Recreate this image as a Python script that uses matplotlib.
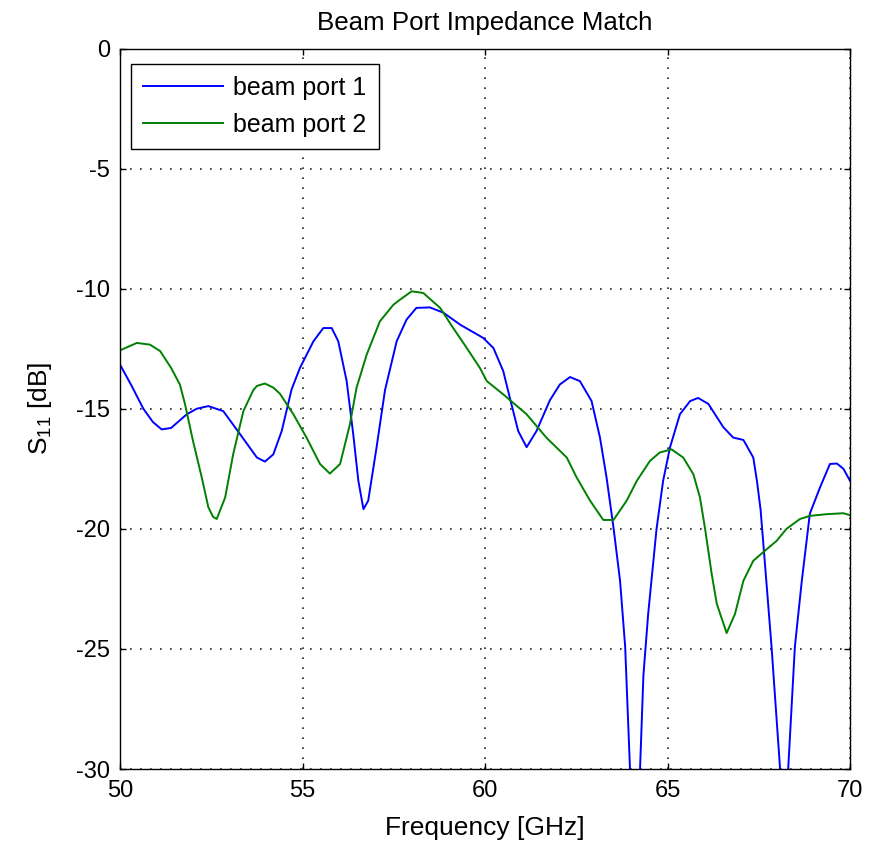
import matplotlib

matplotlib.use("Agg")
import matplotlib.pyplot as plt

FREQ_PORT1 = [
    50.0, 50.32, 50.64, 50.9, 51.14, 51.4, 51.83, 52.1, 52.42, 52.83,
    53.29, 53.75, 53.97, 54.2, 54.43, 54.7, 54.93, 55.3, 55.57, 55.8,
    55.98, 56.21, 56.39, 56.53, 56.67, 56.8, 57.03, 57.26, 57.58, 57.85,
    58.12, 58.49, 58.86, 59.32, 59.95, 60.23, 60.5, 60.68, 60.91, 61.14,
    61.41, 61.78, 62.05, 62.33, 62.6, 62.92, 63.15, 63.33, 63.52, 63.7,
    63.84, 63.97, 64.11, 64.25, 64.34, 64.47, 64.7, 64.88, 65.07, 65.34,
    65.62, 65.84, 66.12, 66.53, 66.8, 67.08, 67.35, 67.45, 67.55, 67.67,
    67.85, 68.08, 68.2, 68.31, 68.49, 68.68, 68.9, 69.18, 69.45, 69.64,
    69.82, 70.0,
]
S11_PORT1 = [
    -13.16, -14.05, -15.0, -15.55, -15.86, -15.8, -15.23, -15.0, -14.89, -15.1,
    -16.06, -17.03, -17.2, -16.9, -15.93, -14.2, -13.3, -12.19, -11.64, -11.64,
    -12.19, -13.85, -16.06, -18.0, -19.18, -18.83, -16.6, -14.23, -12.19, -11.29,
    -10.8, -10.78, -11.0, -11.5, -12.05, -12.47, -13.43, -14.54, -15.93, -16.6,
    -15.93, -14.64, -13.99, -13.68, -13.85, -14.68, -16.2, -17.86, -19.94, -22.16,
    -24.9, -29.9, -36.0, -29.9, -26.1, -23.55, -20.0, -18.0, -16.6, -15.23,
    -14.68, -14.55, -14.8, -15.77, -16.2, -16.3, -17.03, -18.0, -19.2, -21.46,
    -24.9, -29.9, -35.0, -29.9, -24.9, -22.16, -19.37, -18.27, -17.3, -17.28,
    -17.5, -18.0,
]

FREQ_PORT2 = [
    50.0, 50.46, 50.82, 51.1, 51.4, 51.64, 51.78, 52.0, 52.24, 52.42,
    52.55, 52.65, 52.88, 53.1, 53.38, 53.65, 53.75, 53.97, 54.2, 54.38,
    54.75, 55.11, 55.48, 55.75, 56.03, 56.3, 56.48, 56.76, 57.12, 57.49,
    57.67, 57.99, 58.31, 58.77, 59.13, 59.5, 59.86, 60.05, 60.5, 61.14,
    61.68, 62.24, 62.51, 62.88, 63.24, 63.52, 63.88, 64.16, 64.52, 64.79,
    65.11, 65.43, 65.71, 65.89, 66.03, 66.21, 66.35, 66.62, 66.85, 67.08,
    67.35, 67.67, 67.99, 68.26, 68.63, 68.9, 69.36, 69.82, 70.0,
]
S11_PORT2 = [
    -12.57, -12.26, -12.33, -12.6, -13.3, -13.99, -14.8, -16.34, -17.86, -19.1,
    -19.5, -19.59, -18.7, -16.9, -15.1, -14.23, -14.05, -13.95, -14.12, -14.37,
    -15.23, -16.2, -17.3, -17.7, -17.3, -15.64, -14.13, -12.74, -11.36, -10.67,
    -10.46, -10.11, -10.18, -10.8, -11.64, -12.47, -13.3, -13.85, -14.4, -15.23,
    -16.2, -17.03, -17.86, -18.83, -19.63, -19.63, -18.83, -18.0, -17.17, -16.82,
    -16.69, -17.03, -17.73, -18.7, -20.0, -21.87, -23.12, -24.34, -23.54, -22.16,
    -21.33, -20.91, -20.5, -20.0, -19.59, -19.46, -19.39, -19.35, -19.43,
]

X_TICKS = [50, 55, 60, 65, 70]
Y_TICKS = [0, -5, -10, -15, -20, -25, -30]

plt.rcParams.update(
    {
        "font.family": ["Liberation Sans", "DejaVu Sans"],
        "font.size": 17,
        "mathtext.default": "regular",
        "axes.linewidth": 1.0,
        "xtick.direction": "in",
        "ytick.direction": "in",
        "xtick.top": True,
        "ytick.right": True,
        "xtick.major.size": 4.0,
        "ytick.major.size": 4.0,
        "xtick.major.width": 1.0,
        "ytick.major.width": 1.0,
        "xtick.major.pad": 8,
        "ytick.major.pad": 7,
    }
)

fig = plt.figure(figsize=(8.77, 8.42), dpi=100)
ax = fig.add_axes([120 / 877, 1 - 769 / 842, 730 / 877, 720.5 / 842])

ax.plot(FREQ_PORT1, S11_PORT1, color="#0000ff", linewidth=1.4, label="beam port 1")
ax.plot(FREQ_PORT2, S11_PORT2, color="#008000", linewidth=1.4, label="beam port 2")

ax.set_xlim(50, 70)
ax.set_ylim(-30, 0)
ax.set_xticks(X_TICKS)
ax.set_yticks(Y_TICKS)
ax.set_yticklabels([str(t) for t in Y_TICKS])
ax.grid(True, color="#222222", linestyle=(0, (1, 5)), linewidth=1.2)
ax.set_axisbelow(True)

ax.set_title("Beam Port Impedance Match", fontsize=18.6, pad=13)
ax.set_xlabel("Frequency [GHz]", fontsize=19, labelpad=10)
ax.set_ylabel("S$_{11}$ [dB]", fontsize=19, labelpad=16)

legend = ax.legend(
    loc="upper left",
    bbox_to_anchor=(0.015, 0.979),
    borderaxespad=0,
    fancybox=False,
    framealpha=1,
    edgecolor="black",
    fontsize=18,
    handlelength=3.2,
    handletextpad=0.4,
    labelspacing=0.5,
    borderpad=0.5,
)
legend.get_frame().set_linewidth(1.0)

fig.savefig("out.png", dpi=100)
